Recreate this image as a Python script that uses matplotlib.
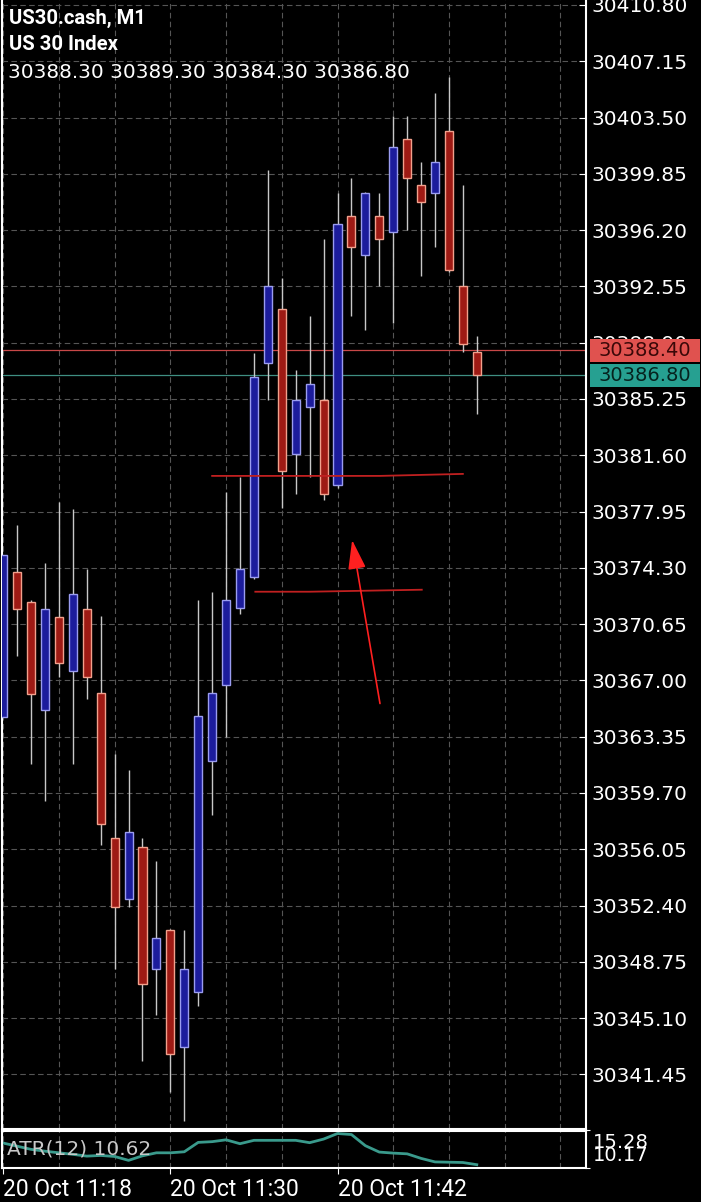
import matplotlib
matplotlib.use("Agg")
import matplotlib.pyplot as plt
from matplotlib.patches import FancyArrowPatch, Rectangle

plt.rcParams['font.family'] = ['Roboto', 'DejaVu Sans']
NUM_FONT = ['DejaVu Sans']  # chiffres plus larges, comme sur la capture

# === Données (bougies M1, US30.cash) ===
opens = [30364.6, 30374.0, 30372.1, 30365.1, 30371.1, 30367.6, 30371.6, 30366.2, 30356.8, 30352.8,
         30356.2, 30348.3, 30350.8, 30343.2, 30346.8, 30361.8, 30366.7, 30371.7, 30373.7, 30387.6,
         30391.1, 30381.7, 30384.7, 30385.2, 30379.7, 30397.1, 30394.6, 30397.1, 30396.1, 30402.1,
         30399.1, 30398.6, 30402.6, 30392.6, 30388.3]
highs = [30375.1, 30377.1, 30372.2, 30374.6, 30378.6, 30378.1, 30374.2, 30371.2, 30362.2, 30361.2,
         30356.8, 30355.3, 30350.9, 30350.8, 30372.2, 30372.7, 30379.2, 30380.2, 30388.2, 30400.1,
         30393.1, 30387.1, 30390.6, 30395.6, 30398.6, 30399.6, 30398.7, 30398.6, 30403.6, 30403.6,
         30400.6, 30405.1, 30406.1, 30399.1, 30389.3]
lows = [30364.6, 30368.6, 30361.6, 30359.2, 30367.2, 30361.6, 30365.8, 30356.3, 30348.3, 30352.3,
        30342.3, 30345.3, 30340.3, 30338.4, 30345.9, 30358.3, 30363.3, 30371.3, 30373.6, 30385.2,
        30378.2, 30379.1, 30380.2, 30378.7, 30379.5, 30390.6, 30389.7, 30392.6, 30390.2, 30396.2,
        30393.2, 30395.1, 30393.5, 30388.3, 30384.3]
closes = [30375.1, 30371.6, 30366.1, 30371.6, 30368.1, 30372.6, 30367.2, 30357.7, 30352.3, 30357.2,
          30347.3, 30350.3, 30342.8, 30348.3, 30364.7, 30366.2, 30372.2, 30374.2, 30386.7, 30392.6,
          30380.6, 30385.2, 30386.2, 30379.1, 30396.6, 30395.1, 30398.6, 30395.6, 30401.6, 30399.6,
          30398.0, 30400.6, 30393.6, 30388.8, 30386.8]

atr = [13.57, 13.14, 12.71, 12.46, 12.24, 12.03, 11.79, 11.88, 11.74, 11.21,
       11.83, 12.24, 12.24, 12.38, 13.66, 13.76, 14.01, 13.48, 13.94, 13.94,
       13.94, 13.94, 13.62, 14.11, 14.87, 14.73, 13.21, 12.34, 12.20, 12.10,
       11.48, 11.00, 10.96, 10.92, 10.62]
atr_range = [10.17, 15.28]

bid = 30388.40
ask = 30386.80

price_ticks = [30341.45, 30345.10, 30348.75, 30352.40, 30356.05, 30359.70, 30363.35, 30367.00,
               30370.65, 30374.30, 30377.95, 30381.60, 30385.25, 30388.90, 30392.55, 30396.20,
               30399.85, 30403.50, 30407.15, 30410.80]
time_ticks = [0, 12, 24]
time_labels = ["20 Oct 11:18", "20 Oct 11:30", "20 Oct 11:42"]

# lignes tracées à la main (index bougie, prix)
line1_x = [15.0, 27.05, 33.0]
line1_y = [30380.26, 30380.26, 30380.39]
line2_x = [18.1, 22.0, 30.05]
line2_y = [30372.75, 30372.75, 30372.88]
arrow_tail = (27.05, 30365.5)
arrow_tip = (25.05, 30376.1)

# === Styles ===
BG = "black"
RED_FILL, RED_EDGE = "#9e1a14", "#f2a08c"
BLUE_FILL, BLUE_EDGE = "#1c1c9c", "#9a9cf0"
WICK = "#c8c8c8"
GRID = "#555555"
TEAL = "#3a9a8c"

W, H = 701, 1202
fig = plt.figure(figsize=(W / 100, H / 100), dpi=100, facecolor=BG)

ax = fig.add_axes([2 / W, (H - 1129) / H, 584 / W, 1129 / H], facecolor=BG)
ax_atr = fig.add_axes([2 / W, (H - 1168) / H, 584 / W, 37.5 / H], facecolor=BG)

XMIN, XMAX = -0.086, 41.84
n = len(opens)
idx = list(range(n))

for a in (ax, ax_atr):
    a.set_xlim(XMIN, XMAX)
    for s in a.spines.values():
        s.set_color("white")
        s.set_linewidth(1.5)
    a.spines["top"].set_visible(a is ax_atr)
    for gx in range(0, 44, 4):
        a.axvline(gx, color=GRID, lw=0.8, ls=(0, (5, 3)), zorder=0)

# --- Panneau prix ---
ax.set_ylim(30337.91, 30411.12)
for p in price_ticks:
    ax.axhline(p, color=GRID, lw=0.8, ls=(0, (5, 3)), zorder=0)

ax.vlines(idx, lows, highs, color=WICK, lw=1, zorder=2)
up = [c >= o for o, c in zip(opens, closes)]
bottoms = [min(o, c) for o, c in zip(opens, closes)]
heights = [abs(c - o) for o, c in zip(opens, closes)]
ax.bar(idx, heights, bottom=bottoms, width=0.58,
       color=[BLUE_FILL if u else RED_FILL for u in up],
       edgecolor=[BLUE_EDGE if u else RED_EDGE for u in up], linewidth=1, zorder=3)

ax.axhline(bid, color="#c84848", lw=0.9, zorder=1)
ax.axhline(ask, color="#3f8f82", lw=0.9, zorder=1)

ax.plot(line1_x, line1_y, color="#c02020", lw=1.3, zorder=4)
ax.plot(line2_x, line2_y, color="#c02020", lw=1.3, zorder=4)
ax.add_patch(FancyArrowPatch(arrow_tail, arrow_tip, arrowstyle="-|>,head_length=18,head_width=5.5",
                             mutation_scale=1, color="#ff2020", lw=1.2, shrinkA=0, shrinkB=0, zorder=5))

ax.yaxis.tick_right()
ax.set_yticks(price_ticks)
ax.set_yticklabels([f"{p:.2f}" for p in price_ticks], family=NUM_FONT)
ax.tick_params(axis="y", colors="white", direction="in", length=5, pad=4, labelsize=14.5)
ax.tick_params(axis="x", bottom=False, labelbottom=False)

# étiquettes bid / ask
for price, fc, tc in ((bid, "#e0524f", "#3a0808"), (ask, "#26a091", "#06231f")):
    ax.add_patch(Rectangle((1.007, price - 0.745), 0.1884, 1.49, transform=ax.get_yaxis_transform(),
                           facecolor=fc, edgecolor="none", clip_on=False, zorder=10))
    ax.text(1.101, price, f"{price:.2f}", transform=ax.get_yaxis_transform(), ha="center", va="center",
            color=tc, fontsize=14, family=NUM_FONT, clip_on=False, zorder=11)

# en-tête
fig.text(9 / W, 1 - 18 / H, "US30.cash, M1", color="white", fontsize=14.6, fontweight="bold", va="center")
fig.text(9 / W, 1 - 45 / H, "US 30 Index", color="white", fontsize=14.6, fontweight="bold", va="center")
fig.text(8 / W, 1 - 73 / H, " ".join(f"{v:.2f}" for v in (opens[-1], highs[-1], lows[-1], closes[-1])),
         color="white", fontsize=14.4, family=NUM_FONT, va="center")

# --- Panneau ATR ---
ax_atr.set_ylim(*atr_range)
ax_atr.plot(idx, atr, color=TEAL, lw=2, solid_joinstyle="round", zorder=2)
ax_atr.yaxis.tick_right()
ax_atr.set_yticks(atr_range)
ax_atr.set_yticklabels([])
ax_atr.tick_params(axis="y", colors="white", direction="out", length=3)
trans = ax_atr.get_yaxis_transform()
ax_atr.text(1.012, atr_range[1] - 0.35, f"{atr_range[1]:.2f}", transform=trans, color="white",
            fontsize=14, family=NUM_FONT, va="top", clip_on=False)
ax_atr.text(1.012, atr_range[0] + 0.45, f"{atr_range[0]:.2f}", transform=trans, color="white",
            fontsize=14, family=NUM_FONT, va="bottom", clip_on=False)
ax_atr.text(5 / 584, 0.5, f"ATR(12) {atr[-1]:.2f}", transform=ax_atr.transAxes, color="#c8c8c8",
            fontsize=14.5, family=NUM_FONT, va="center", zorder=3)

ax_atr.set_xticks(time_ticks)
ax_atr.set_xticklabels(time_labels, ha="left")
ax_atr.tick_params(axis="x", colors="white", direction="out", length=4, pad=3, labelsize=16.5)

fig.savefig("out.png", dpi=100, facecolor=BG)
